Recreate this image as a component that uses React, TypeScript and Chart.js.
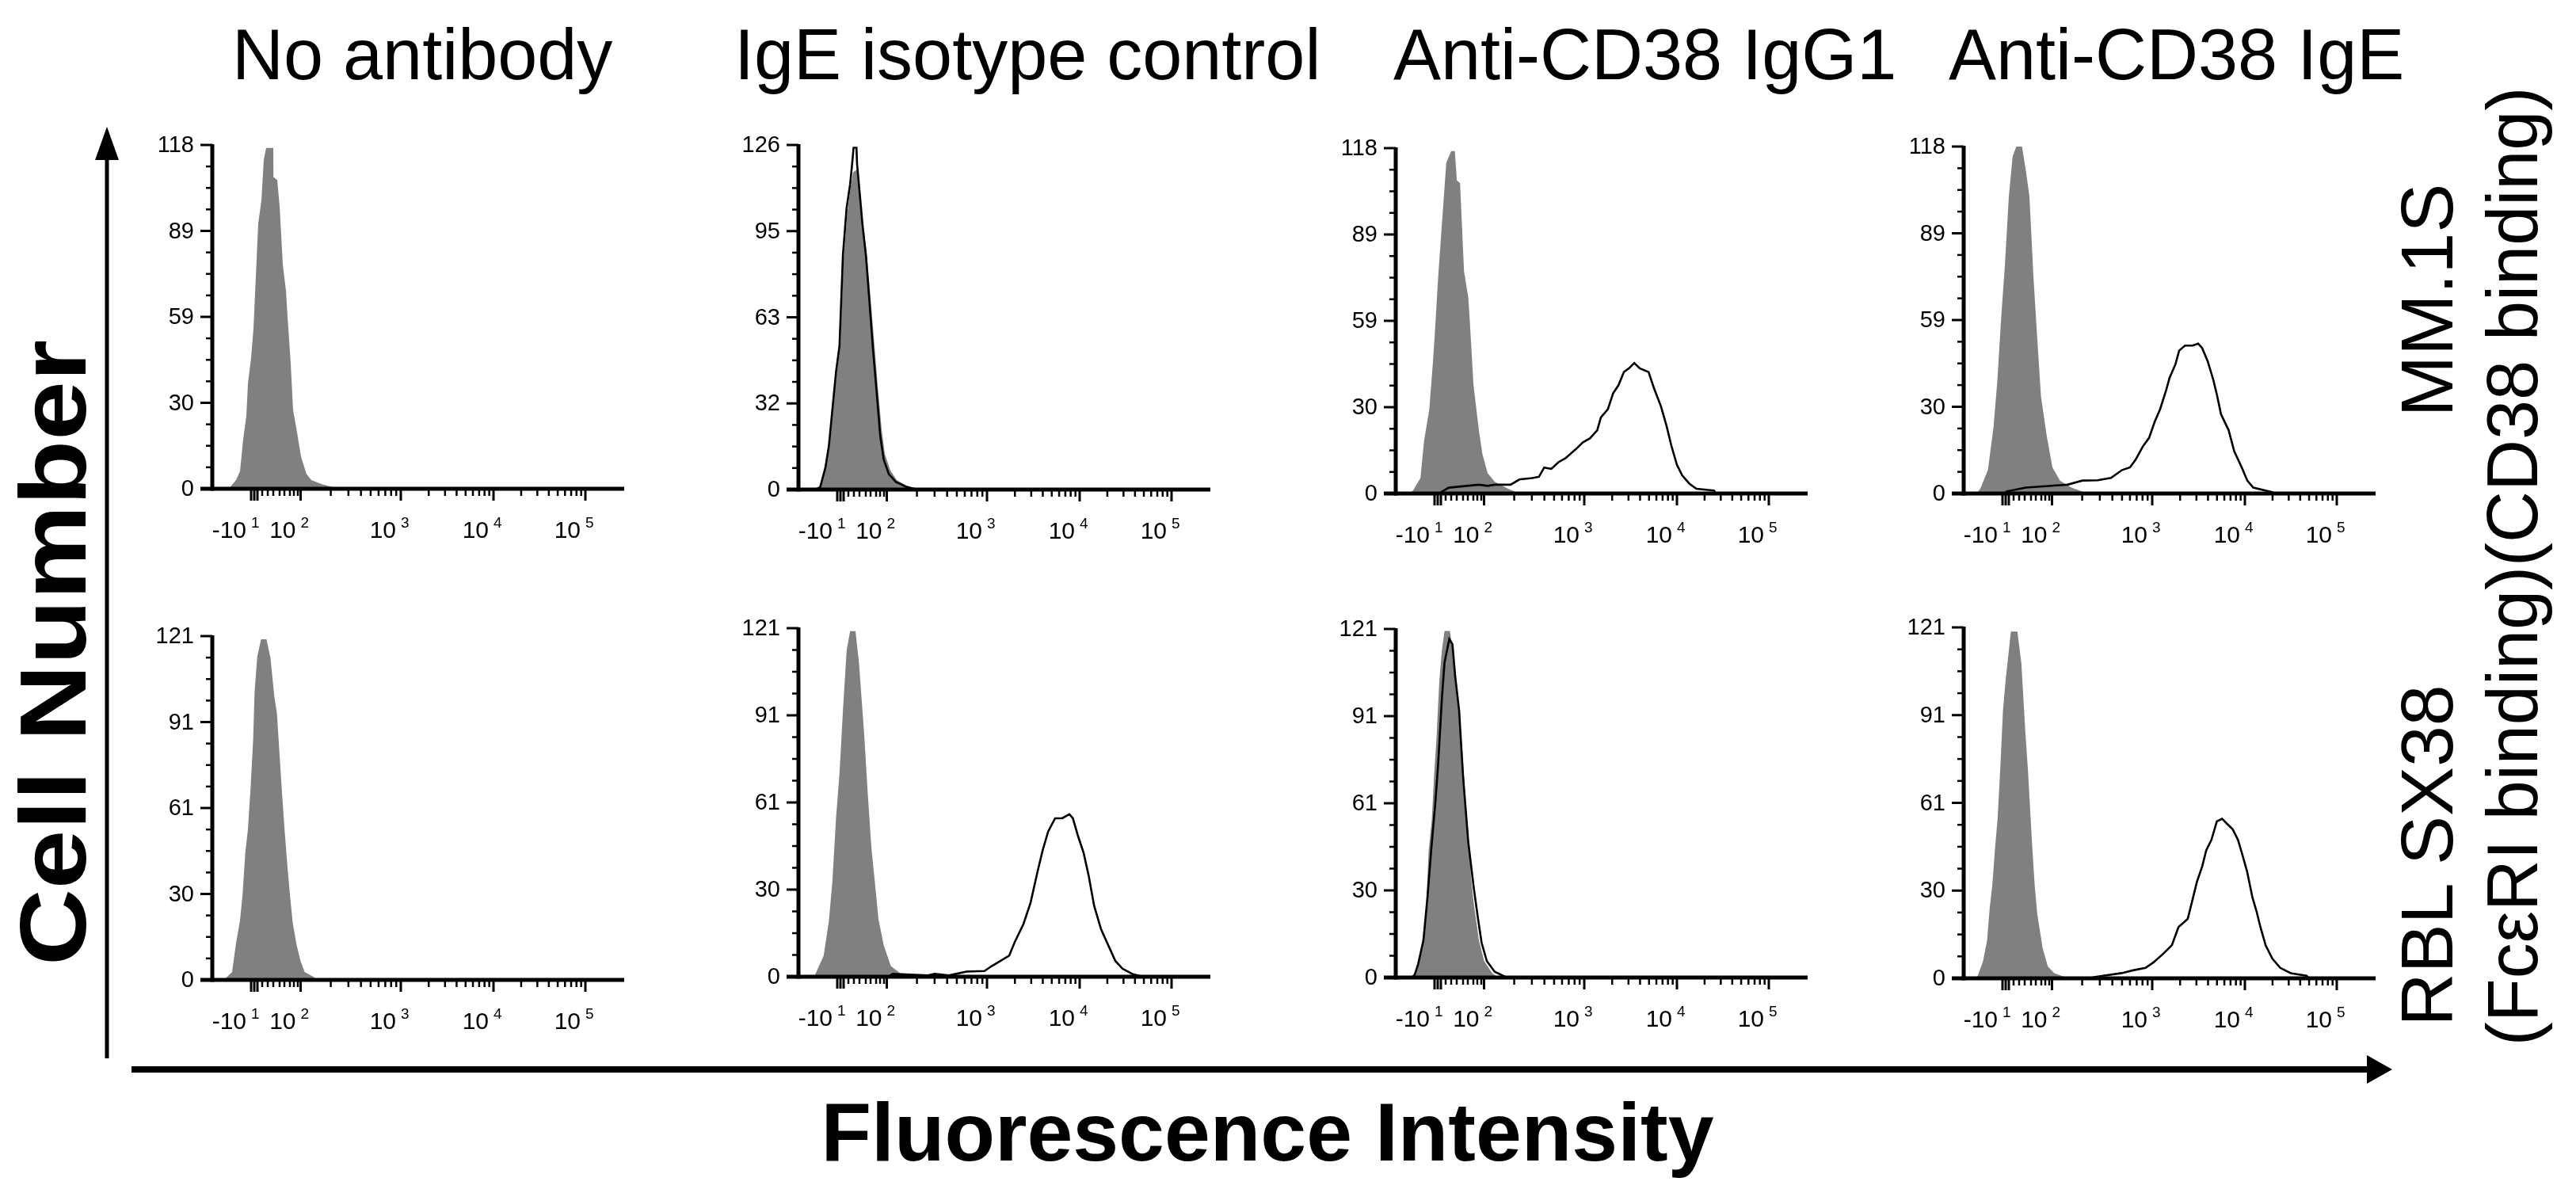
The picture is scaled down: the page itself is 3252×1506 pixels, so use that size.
import React, { useEffect, useRef } from "react";
import { Chart, registerables } from "chart.js";

Chart.register(...registerables);

const FONT = '"Liberation Sans", Arial, Helvetica, sans-serif';

// ---------- text ----------
const COLUMN_TITLES = ["No antibody", "IgE isotype control", "Anti-CD38 IgG1", "Anti-CD38 IgE"];
const ROW_LABELS = ["MM.1S", "RBL SX38"];
const ROW_SUBLABEL = "(FcεRI binding)(CD38 binding)";
const Y_AXIS_TITLE = "Cell Number";
const X_AXIS_TITLE = "Fluorescence Intensity";

// ---------- axes (x in display channels 0..260 of the biexponential axis) ----------
const X_CHANNEL_MAX = 260;
const Y_MAX = [
  [118, 126, 118, 118],
  [121, 121, 121, 121],
];
const X_DECADE_BASES = ["-10", "10", "10", "10", "10"];
const X_DECADE_EXPONENTS = ["1", "2", "3", "4", "5"];
const X_DECADE_CHANNELS = [24.5, 55.75, 119, 177.5, 235.5];
const X_ZERO_MAJOR_CHANNELS = [26.5, 28.5]; // 0 and 10
const X_LINEAR_MINOR_CHANNELS = [31.5, 35, 38.5, 42.5, 45.5, 49, 51.5, 54]; // 20..90
const X_LOG_MINOR_MULTIPLIERS = [2, 3, 4, 5, 6, 7, 8, 9];

// ---------- data: [channel, cell count] ----------
// Row 1: MM.1S
const MM1S_NOAB_FILLED = [[10,0],[12,1],[15,3],[17.5,6],[19.5,17],[21.5,25],[22.5,36],[24.5,45],[26,55],[27.5,73],[29,91],[31,99],[32.5,113],[34,117],[38.5,117],[38.6,107],[41,106],[42.5,97],[44.5,77],[46.5,68],[47.5,59],[49.5,43],[51,27],[53,21],[56,11],[59.5,5],[62.5,3],[69.5,1.5],[77,0.5],[80,0]];
const MM1S_ISO_FILLED = [[12,0],[14,1],[17,7],[19.5,16],[24,42],[26.5,53],[28.5,84],[30.8,101],[32.8,110],[34.5,116],[36.8,117],[38.5,109],[40.5,98],[43,87],[45.5,70],[47.8,54],[50,38],[52.5,22],[54.5,13],[58,7],[62,3.5],[68,1.5],[76,0]];
const MM1S_ISO_STAINED = [[11,0],[13.7,0.9],[17,8],[19.2,16],[23.7,43],[25.9,52.5],[28.1,86],[30.4,103],[32.6,111.6],[33.7,118],[34.8,125],[36.6,125],[37,119],[38.6,108.7],[40.4,97],[42.6,85.5],[44.9,68],[47,51.6],[49.3,36],[51.6,19.7],[53.8,11],[57,5.7],[61.5,2.8],[68,1],[75,0]];
const MM1S_IGG1_FILLED = [[9,0],[11.2,1.3],[15.6,5.3],[17.9,18],[21.2,28.8],[23.5,45],[24.6,54],[26.8,74],[29,91],[31.9,113],[35,117],[37.3,117],[38.6,107],[40.6,106],[43.1,76],[45.8,67],[46.8,58.6],[49.1,37],[52.5,21.6],[54.7,13.5],[58,7],[62.5,4],[71,1.6],[76,0.5],[80,0]];
const MM1S_IGG1_STAINED = [[28,0],[29,0.6],[33.5,2],[44.6,2.6],[52.5,3],[58,2.6],[62.5,3],[72.5,3],[78,4.8],[86,5.3],[90.4,5.7],[93.7,8.9],[98.2,8.4],[102.7,10.7],[107,12],[113.8,15.2],[118.2,17.5],[122.7,18.9],[127.2,21.6],[129.5,26],[133.9,28.8],[137.2,34.2],[140.6,37],[144,41.5],[147.3,42.8],[150.6,44.6],[154,42.8],[159.6,41.5],[163,36],[167.4,29.8],[170.8,23.4],[174,16.3],[177.5,9.8],[180.8,6.2],[185.3,3.4],[189.8,1.6],[200.9,1],[202,0]];
const MM1S_IGE_FILLED = [[8,0],[10.5,1.6],[15.3,8],[18.8,22.4],[21.2,38],[23.7,60],[26,77.5],[28.5,101],[30.9,114.6],[33.2,118],[36.8,118],[39.2,110],[41.5,101],[44,74],[46.4,53],[48.8,33],[52.4,19.7],[56,8.9],[60.8,4.4],[68,2],[76,0.5],[80,0]];
const MM1S_IGE_STAINED = [[26,0],[27,0.7],[39.2,2],[57,2.7],[65.5,3],[75,4.4],[84.6,4.5],[93,5.3],[100,8],[105,8.9],[108.5,11.5],[113.3,16.2],[117,18.9],[120.5,24.3],[124,28.7],[127.7,35],[130,39.4],[133.7,44],[136,48.6],[139.7,50.3],[144.5,50.3],[148,51],[150.5,49.5],[154,45],[157.6,38.6],[160,33.2],[162.4,27],[167.2,21.6],[170.8,14.3],[175.5,8.9],[179,4.4],[182.8,2],[194.7,0.5],[196,0]];
// Row 2: RBL SX38
const RBL_NOAB_FILLED = [[7,0],[9.2,1],[12.5,2.8],[15,13],[17.5,20.9],[19.2,30.7],[20.8,44.6],[22.5,53],[24.2,67.9],[25.8,84.6],[26.7,101.4],[28.4,113.8],[30.8,119.9],[34.2,119.9],[36.7,113.4],[39.2,99.5],[40.8,93.9],[42.5,79],[44.2,64.1],[45.8,51.6],[47.5,39.5],[49.2,28.8],[50.8,20],[53.3,12.1],[55.8,6.5],[58.3,2.8],[64.2,1],[65.8,0]];
const RBL_ISO_FILLED = [[8,0],[10.3,0.5],[15.9,7.3],[19.2,19.3],[21.4,33],[23.7,55],[25.9,70.6],[28.1,92.6],[30.4,113.2],[32.6,120],[36,120],[38.2,109],[41.5,84],[43.7,64],[46,45],[48.2,33],[50.5,20],[53.8,11],[58.3,3.7],[66,0.5],[68,0]];
const RBL_ISO_STAINED = [[57,0],[59.4,1],[81.7,0.5],[86,1],[95,0.5],[99.5,1],[106,1.8],[117.4,2],[122,3.7],[133,7.3],[136.4,11.9],[142,18.3],[146.5,25.7],[151,36.7],[154.2,44],[157.6,50.4],[162,55],[166.5,55],[171,56.4],[173.2,55],[176.6,48.6],[180,43],[183.3,34.8],[186.6,24.7],[191,16.5],[195.5,11],[200,5.5],[204.5,2.8],[211,0.9],[215.5,0.3],[217,0]];
const RBL_IGG1_FILLED = [[8,0],[10,0.5],[12.5,2],[15,6.6],[17.5,14.9],[19.2,24],[20.8,44],[22.8,55],[24.2,69.9],[25.8,83.6],[27.5,102.9],[29.2,113.9],[30.8,120.3],[34.2,120.3],[36.7,111],[39.2,98.3],[41.7,80.9],[44.2,60.7],[45.8,49.7],[47.5,35],[49.2,25.9],[52.5,13],[55.8,5.7],[60.8,1.6],[64,0.3],[66,0]];
const RBL_IGG1_STAINED = [[10,0],[11.7,0.5],[14.2,4.8],[17.5,13],[20,27.7],[22.5,45],[25,60.7],[26.7,73.5],[29.2,97.4],[30.8,109.3],[32.5,113.9],[33.8,117.5],[35.8,115.7],[37.5,104.7],[40,92.8],[42.5,69.9],[45.8,47],[49.2,31.4],[51.7,21.3],[54.2,12.1],[57.5,5.7],[62.5,2],[69,0.3],[71,0]];
const RBL_IGE_FILLED = [[7,0],[8.9,0.9],[12.2,5.9],[14.8,13.2],[16.4,24.1],[18.1,32.3],[19.8,45],[21.4,55],[23.1,72.3],[24.8,92.3],[26.4,102.4],[29.8,119.6],[33.9,119.6],[36.4,108.7],[38.9,85.1],[40.6,71.4],[43.1,46.9],[44.8,32.3],[46.4,22.3],[49.8,10.5],[53.1,4.1],[57.2,1.8],[63.9,0.5],[66,0]];
const RBL_IGE_STAINED = [[80,0],[82.3,0.4],[88,0.9],[99.8,1.8],[106.4,2.7],[114.8,3.6],[119.8,5.5],[126.4,8.7],[131.4,11.4],[135.6,17.7],[141.4,20.5],[143.9,25.9],[147.2,33.2],[150.6,38.7],[153.1,44.1],[156.4,47.8],[159.8,54.1],[163.1,55],[166.4,53.2],[169.8,51.4],[173.1,47.8],[175.6,43.2],[178.9,36.8],[182.3,27.8],[184.8,23.2],[187.3,17.7],[190.6,11.4],[194.8,6.8],[199.8,3.6],[206.4,1.8],[216.4,0.9],[218,0]];

const FILLED_SERIES = [
  [MM1S_NOAB_FILLED, MM1S_ISO_FILLED, MM1S_IGG1_FILLED, MM1S_IGE_FILLED],
  [RBL_NOAB_FILLED, RBL_ISO_FILLED, RBL_IGG1_FILLED, RBL_IGE_FILLED],
];
const STAINED_SERIES = [
  [null, MM1S_ISO_STAINED, MM1S_IGG1_STAINED, MM1S_IGE_STAINED],
  [null, RBL_ISO_STAINED, RBL_IGG1_STAINED, RBL_IGE_STAINED],
];

// ---------- layout (page pixels) ----------
const PAGE_W = 3252;
const PAGE_H = 1506;
const COL_LEFT = [268, 1008, 1762, 2479];
const PANEL_TOP = [
  [183, 183, 187, 185],
  [803, 793, 794, 792],
];
const PANEL_BOTTOM = [
  [617, 618, 623, 623],
  [1237, 1233, 1234, 1235],
];
const PLOT_W = 520;
const PAD_L = 140;
const PAD_R = 30;
const PAD_T = 30;
const PAD_B = 90;

const FILL_GRAY = "#808080";

const flowAxesPlugin = {
  id: "flowAxes",
  afterDatasetsDraw(chart: any) {
    const { ctx } = chart;
    const xs = chart.scales.x;
    const ys = chart.scales.y;
    const yMax = ys.max;
    const xL = xs.getPixelForValue(0);
    const xR = xs.getPixelForValue(X_CHANNEL_MAX);
    const y0 = ys.getPixelForValue(0);
    const yT = ys.getPixelForValue(yMax);
    ctx.save();
    ctx.strokeStyle = "#000";
    ctx.fillStyle = "#000";
    ctx.lineCap = "butt";

    // y ticks
    for (let i = 0; i <= 16; i++) {
      const v = (yMax * i) / 16;
      const y = ys.getPixelForValue(v);
      const major = i % 4 === 0;
      ctx.lineWidth = major ? 3 : 2.5;
      ctx.beginPath();
      ctx.moveTo(xL - (major ? 15 : 8), y);
      ctx.lineTo(xL, y);
      ctx.stroke();
      if (major) {
        ctx.font = `29px ${FONT}`;
        ctx.textAlign = "right";
        ctx.textBaseline = "middle";
        ctx.fillText(String(Math.round(v)), xL - 23, y + 1);
      }
    }

    // x ticks
    const tick = (ch: number, major: boolean) => {
      const x = xs.getPixelForValue(ch);
      ctx.lineWidth = major ? 3 : 2.5;
      ctx.beginPath();
      ctx.moveTo(x, y0);
      ctx.lineTo(x, y0 + (major ? 15 : 9));
      ctx.stroke();
    };
    X_DECADE_CHANNELS.forEach((c) => tick(c, true));
    X_ZERO_MAJOR_CHANNELS.forEach((c) => tick(c, true));
    X_LINEAR_MINOR_CHANNELS.forEach((c) => tick(c, false));
    for (let d = 1; d < X_DECADE_CHANNELS.length - 1; d++) {
      const c0 = X_DECADE_CHANNELS[d];
      const c1 = X_DECADE_CHANNELS[d + 1];
      X_LOG_MINOR_MULTIPLIERS.forEach((k) => tick(c0 + (c1 - c0) * Math.log10(k), false));
    }
    // x labels
    X_DECADE_CHANNELS.forEach((c, i) => {
      const x = xs.getPixelForValue(c);
      ctx.font = `30px ${FONT}`;
      ctx.textAlign = "right";
      ctx.textBaseline = "alphabetic";
      ctx.fillText(X_DECADE_BASES[i], x - 6, y0 + 62);
      ctx.font = `19px ${FONT}`;
      ctx.textAlign = "left";
      ctx.fillText(X_DECADE_EXPONENTS[i], x, y0 + 49);
    });

    // axis lines
    ctx.lineWidth = 5;
    ctx.beginPath();
    ctx.moveTo(xL - 15, y0);
    ctx.lineTo(xR, y0);
    ctx.stroke();
    ctx.beginPath();
    ctx.moveTo(xL, yT - 1);
    ctx.lineTo(xL, y0 + 2.5);
    ctx.stroke();
    ctx.restore();
  },
};

function toPoints(arr: number[][]) {
  return arr.map(([x, y]) => ({ x, y }));
}

function Panel({ row, col }: { row: number; col: number }) {
  const ref = useRef<HTMLCanvasElement | null>(null);
  const top = PANEL_TOP[row][col];
  const bottom = PANEL_BOTTOM[row][col];
  const width = PAD_L + PLOT_W + PAD_R;
  const height = PAD_T + (bottom - top) + PAD_B;
  const left = COL_LEFT[col] - PAD_L;
  const canvasTop = top - PAD_T;

  useEffect(() => {
    if (!ref.current) return;
    const datasets: any[] = [];
    const stained = STAINED_SERIES[row][col];
    if (stained) {
      datasets.push({
        label: "stained",
        data: toPoints(stained),
        borderColor: "#000",
        borderWidth: 2.6,
        fill: false,
        pointRadius: 0,
        tension: 0,
        order: 0,
      });
    }
    datasets.push({
      label: "unstained",
      data: toPoints(FILLED_SERIES[row][col]),
      borderColor: FILL_GRAY,
      borderWidth: 0,
      backgroundColor: FILL_GRAY,
      fill: "origin",
      pointRadius: 0,
      tension: 0,
      order: 1,
    });
    const chart = new Chart(ref.current, {
      type: "line",
      data: { datasets },
      options: {
        responsive: false,
        animation: false,
        devicePixelRatio: 1,
        parsing: false,
        normalized: true,
        layout: { padding: { left: PAD_L, right: PAD_R, top: PAD_T, bottom: PAD_B } },
        plugins: { legend: { display: false }, tooltip: { enabled: false } },
        events: [],
        scales: {
          x: { type: "linear", min: 0, max: X_CHANNEL_MAX, display: false },
          y: { type: "linear", min: 0, max: Y_MAX[row][col], display: false },
        },
      } as any,
      plugins: [flowAxesPlugin],
    });
    return () => chart.destroy();
  }, [row, col]);

  return (
    <canvas
      ref={ref}
      width={width}
      height={height}
      style={{ position: "absolute", left, top: canvasTop, width, height, display: "block" }}
    />
  );
}

export default function App() {
  const titleX = [293, 927, 1759, 2460];
  return (
    <div
      style={{
        position: "absolute",
        left: 0,
        top: 0,
        width: PAGE_W,
        height: PAGE_H,
        background: "#fff",
        overflow: "hidden",
      }}
    >
      <svg
        width={PAGE_W}
        height={PAGE_H}
        style={{ position: "absolute", left: 0, top: 0 }}
        fontFamily={FONT}
      >
        {COLUMN_TITLES.map((t, i) => (
          <text key={t} x={titleX[i]} y={100} fontSize={90} fill="#000">
            {t}
          </text>
        ))}
        <text
          x={108}
          y={824}
          fontSize={118}
          fontWeight="bold"
          textAnchor="middle"
          textLength={790}
          lengthAdjust="spacingAndGlyphs"
          transform="rotate(-90 108 824)"
        >
          {Y_AXIS_TITLE}
        </text>
        <text x={1600} y={1465} fontSize={104} fontWeight="bold" textAnchor="middle">
          {X_AXIS_TITLE}
        </text>
        <text x={3096} y={379} fontSize={93} textAnchor="middle" transform="rotate(-90 3096 379)">
          {ROW_LABELS[0]}
        </text>
        <text x={3096} y={1080} fontSize={93} textAnchor="middle" transform="rotate(-90 3096 1080)">
          {ROW_LABELS[1]}
        </text>
        <text x={3203} y={715} fontSize={90} textAnchor="middle" transform="rotate(-90 3203 715)">
          {ROW_SUBLABEL}
        </text>
        {/* vertical arrow */}
        <line x1={135} y1={190} x2={135} y2={1336} stroke="#000" strokeWidth={5} />
        <polygon points="135,160 120,202 150,202" fill="#000" />
        {/* horizontal arrow */}
        <line x1={166} y1={1350} x2={2992} y2={1350} stroke="#000" strokeWidth={8} />
        <polygon points="3020,1350 2988,1332 2988,1368" fill="#000" />
      </svg>
      {[0, 1].map((r) =>
        [0, 1, 2, 3].map((c) => <Panel key={`${r}-${c}`} row={r} col={c} />)
      )}
    </div>
  );
}
